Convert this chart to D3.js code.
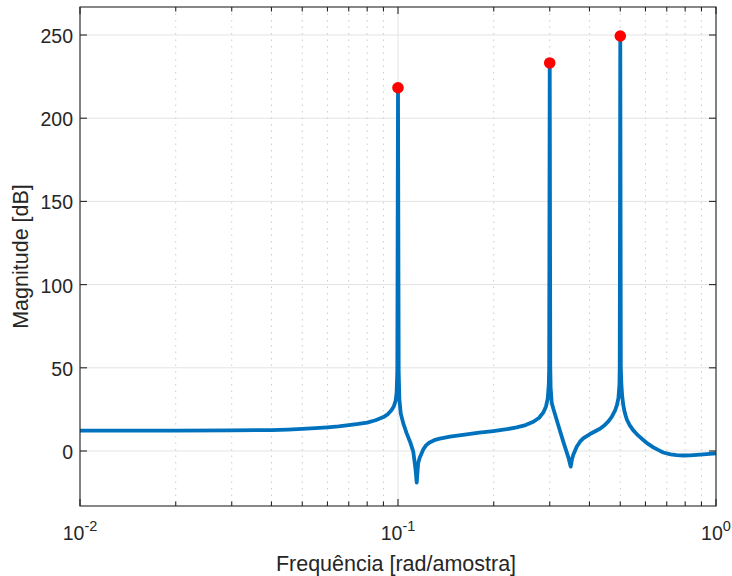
<!DOCTYPE html>
<html>
<head>
<meta charset="utf-8">
<script src="https://cdn.jsdelivr.net/npm/d3@7"></script>
<style>
  html, body { margin: 0; padding: 0; background: #ffffff; }
  svg { display: block; }
  text { font-family: "Liberation Sans", Arial, Helvetica, sans-serif; fill: #262626; }
</style>
</head>
<body>
<svg id="chart" width="732" height="576"></svg>
<script>
// Frequency response magnitude (rad/sample vs dB)
const freq = [0.01, 0.02, 0.03, 0.04, 0.045, 0.05, 0.055, 0.06, 0.065, 0.07,
  0.075, 0.08, 0.085, 0.09, 0.093, 0.0955, 0.097, 0.0983, 0.099, 0.0995,
  0.1, 0.1005, 0.101, 0.102, 0.1039, 0.1065, 0.1091, 0.1117, 0.1136, 0.1145,
  0.1157, 0.117, 0.1185, 0.1201, 0.1225, 0.1253, 0.13, 0.1353, 0.1457, 0.1644,
  0.18, 0.1994, 0.22, 0.2361, 0.252, 0.2665, 0.278, 0.2865, 0.292, 0.2957,
  0.298, 0.2988, 0.3, 0.3012, 0.302, 0.3043, 0.3078, 0.3192, 0.3311, 0.3433,
  0.3492, 0.3525, 0.3559, 0.3647, 0.3735, 0.3823, 0.4016, 0.4317, 0.445, 0.4587,
  0.47, 0.4817, 0.488, 0.4936, 0.497, 0.498, 0.5, 0.502, 0.504, 0.507,
  0.511, 0.517, 0.5237, 0.535, 0.5495, 0.57, 0.5907, 0.61, 0.6353, 0.66,
  0.6825, 0.72, 0.752, 0.79, 0.828, 0.87, 0.912, 1.0];
const magDb = [12.2, 12.3, 12.4, 12.6, 12.9, 13.3, 13.7, 14.2, 14.8, 15.6,
  16.3, 17.1, 18.5, 20.4, 22.2, 24.6, 26.8, 30.2, 35, 48,
  218.3, 48, 31, 22.6, 16.6, 10.6, 5.6, -0.4, -11.4, -19,
  -7.4, -4.0, -1.6, 1.0, 3.4, 5.0, 6.5, 7.4, 8.6, 10.0,
  11.0, 12.0, 13.1, 14.2, 15.6, 17.6, 20.0, 23.2, 26.8, 31.5,
  40, 50, 233.2, 50, 38, 29, 25.5, 15.5, 5.5, -3.8,
  -9.4, -5.0, -2.2, 2.6, 5.6, 7.6, 10.2, 13.4, 15.3, 17.8,
  20.5, 24.4, 27.5, 32, 40, 50, 249.4, 50, 40, 33,
  27.5, 22.8, 19.2, 15.6, 12.4, 9.2, 6.6, 4.4, 2.2, 0.5,
  -0.9, -2.0, -2.5, -2.7, -2.6, -2.3, -2.0, -1.4];

// Resonance peaks
const peakFreq = [0.1, 0.3, 0.5];
const peakDb = [218.3, 233.2, 249.4];

// Axis ticks
const yTicks = [0, 50, 100, 150, 200, 250];
const xMajorTicks = [0.01, 0.1, 1];
const xMajorExp = ["-2", "-1", "0"];
const xMinorTicks = [0.02, 0.03, 0.04, 0.05, 0.06, 0.07, 0.08, 0.09,
                     0.2, 0.3, 0.4, 0.5, 0.6, 0.7, 0.8, 0.9];

const svg = d3.select("#chart");
const L = 80, R = 716, T = 7, B = 506;

const x = d3.scaleLog().domain([0.01, 1]).range([L, R]);
const y = d3.scaleLinear().domain([-33.05, 266.83]).range([B, T]);

const axisColor = "#262626";

// Grid
const grid = svg.append("g");
grid.selectAll(".gy").data(yTicks).join("line")
  .attr("x1", L).attr("x2", R)
  .attr("y1", d => y(d)).attr("y2", d => y(d))
  .attr("stroke", "#e3e3e3").attr("stroke-width", 1);
grid.selectAll(".gx").data(xMajorTicks).join("line")
  .attr("x1", d => x(d)).attr("x2", d => x(d))
  .attr("y1", T).attr("y2", B)
  .attr("stroke", "#e3e3e3").attr("stroke-width", 1);
grid.selectAll(".gxm").data(xMinorTicks).join("line")
  .attr("x1", d => x(d)).attr("x2", d => x(d))
  .attr("y1", T).attr("y2", B)
  .attr("stroke", "#cccccc").attr("stroke-width", 1)
  .attr("stroke-dasharray", "1.5,5");

// Magnitude curve
const pts = freq.map((f, i) => [f, magDb[i]]);
const line = d3.line().x(d => x(d[0])).y(d => y(d[1])).curve(d3.curveLinear);
svg.append("path")
  .datum(pts)
  .attr("d", line)
  .attr("fill", "none")
  .attr("stroke", "#0072BD")
  .attr("stroke-width", 3.8)
  .attr("stroke-linejoin", "round")
  .attr("stroke-linecap", "butt");

// Peak markers
svg.selectAll(".peak").data(peakFreq).join("circle")
  .attr("cx", d => x(d))
  .attr("cy", (d, i) => y(peakDb[i]))
  .attr("r", 5.8)
  .attr("fill", "#FF0000");

// Axes box
const ax = svg.append("g").attr("stroke", axisColor).attr("stroke-width", 1.1).attr("fill", "none");
ax.append("rect").attr("x", L).attr("y", T).attr("width", R - L).attr("height", B - T);

// Y ticks (left and right)
ax.selectAll(".ytl").data(yTicks).join("line")
  .attr("x1", L).attr("x2", L + 7).attr("y1", d => y(d)).attr("y2", d => y(d));
ax.selectAll(".ytr").data(yTicks).join("line")
  .attr("x1", R).attr("x2", R - 7).attr("y1", d => y(d)).attr("y2", d => y(d));

// X ticks (bottom and top)
ax.selectAll(".xtb").data(xMajorTicks).join("line")
  .attr("x1", d => x(d)).attr("x2", d => x(d)).attr("y1", B).attr("y2", B - 7);
ax.selectAll(".xtt").data(xMajorTicks).join("line")
  .attr("x1", d => x(d)).attr("x2", d => x(d)).attr("y1", T).attr("y2", T + 7);
ax.selectAll(".xmb").data(xMinorTicks).join("line")
  .attr("x1", d => x(d)).attr("x2", d => x(d)).attr("y1", B).attr("y2", B - 4.5);
ax.selectAll(".xmt").data(xMinorTicks).join("line")
  .attr("x1", d => x(d)).attr("x2", d => x(d)).attr("y1", T).attr("y2", T + 4.5);

// Y tick labels
svg.selectAll(".ylab").data(yTicks).join("text")
  .attr("x", L - 7)
  .attr("y", d => y(d) + 8)
  .attr("text-anchor", "end")
  .attr("font-size", 19.5)
  .text(d => d);

// X tick labels (powers of ten)
const xl = svg.selectAll(".xlab").data(xMajorTicks).join("text")
  .attr("x", d => x(d))
  .attr("y", 540)
  .attr("text-anchor", "middle")
  .attr("font-size", 19.5);
xl.append("tspan").text("10");
xl.append("tspan").attr("dy", -9).attr("font-size", 14.5).text((d, i) => xMajorExp[i]);

// Axis titles
svg.append("text")
  .attr("x", (L + R) / 2 - 2)
  .attr("y", 571)
  .attr("text-anchor", "middle")
  .attr("font-size", 21.5)
  .text("Frequência [rad/amostra]");

svg.append("text")
  .attr("transform", `translate(28, ${(T + B) / 2}) rotate(-90)`)
  .attr("text-anchor", "middle")
  .attr("font-size", 21.5)
  .text("Magnitude [dB]");
</script>
</body>
</html>
